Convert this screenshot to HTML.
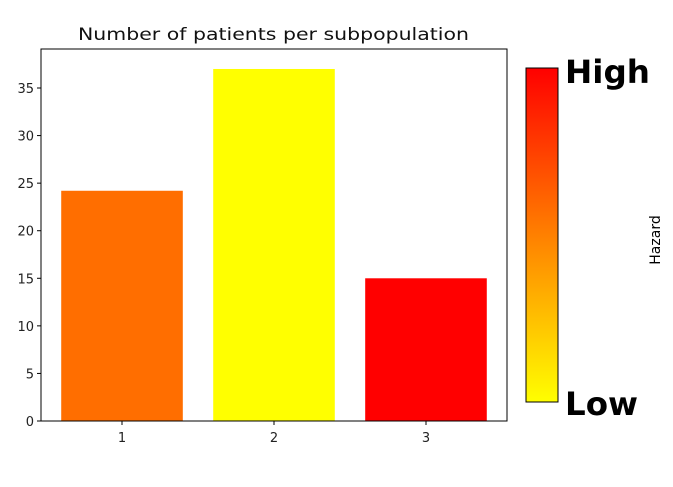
<!DOCTYPE html>
<html><head><meta charset="utf-8"><style>
body{margin:0;background:#fff;}
svg{display:block;font-family:"DejaVu Sans","Liberation Sans",sans-serif;}
</style></head><body>
<svg id="chart" width="673" height="487">
<defs><linearGradient id="hz" x1="0" y1="1" x2="0" y2="0">
<stop offset="0" stop-color="#ffff00"/><stop offset="0.5" stop-color="#ff8000"/><stop offset="1" stop-color="#ff0000"/>
</linearGradient></defs>
<g id="plot"></g>
<rect x="526" y="68" width="32" height="334" fill="url(#hz)" stroke="#000" stroke-width="1"/>
<text x="565" y="83" font-size="32" font-weight="bold" textLength="85" lengthAdjust="spacingAndGlyphs" font-family="DejaVu Sans,sans-serif">High</text>
<text x="565" y="415" font-size="32" font-weight="bold" textLength="73" lengthAdjust="spacingAndGlyphs" font-family="DejaVu Sans,sans-serif">Low</text>
<text x="660" y="240" font-size="14" text-anchor="middle" transform="rotate(-90 660 240)">Hazard</text>
</svg>
<script>
const categories=["1","2","3"];
const values=[24.2,37,15];
const colors=["#ff6e00","#ffff00","#ff0000"];
const yTicks=[0,5,10,15,20,25,30,35];
const L=41,R=507,T=49,B=421;
const xMin=0.467,xMax=3.533,yMin=0,yMax=39.1;
const xs=v=>L+(v-xMin)/(xMax-xMin)*(R-L);
const ys=v=>B-(v-yMin)/(yMax-yMin)*(B-T);
const NS="http://www.w3.org/2000/svg";
const g=document.getElementById('plot');
function mk(t,a){const e=document.createElementNS(NS,t);for(const k in a)e.setAttribute(k,a[k]);g.appendChild(e);return e;}
values.forEach((v,i)=>{
 const c=i+1;
 const r=mk('rect',{x:xs(c-0.4),y:ys(v),width:xs(c+0.4)-xs(c-0.4),height:ys(0)-ys(v),fill:colors[i]});
 
 
 const tk=mk('line',{x1:xs(c),x2:xs(c),y1:B,y2:B+4,stroke:'#000'});
 
 
 const tl=mk('text',{x:xs(c),y:B+21,'font-size':13,'text-anchor':'middle',fill:'#222'});
 tl.textContent=categories[i];
 
 
});
yTicks.forEach(v=>{
 const tk=mk('line',{x1:L-4,x2:L,y1:ys(v),y2:ys(v),stroke:'#000'});
 
 
 const tl=mk('text',{x:L-7,y:ys(v)+5,'font-size':13,'text-anchor':'end',fill:'#222'});
 tl.textContent=v;
 
 
});
const fr=mk('rect',{x:L,y:T,width:R-L,height:B-T,fill:'none',stroke:'#000','stroke-width':1});


const ti=mk('text',{x:78,y:40,'font-size':17,textLength:391,lengthAdjust:'spacingAndGlyphs',fill:'#111'});
ti.textContent='Number of patients per subpopulation';


</script>
</body></html>
